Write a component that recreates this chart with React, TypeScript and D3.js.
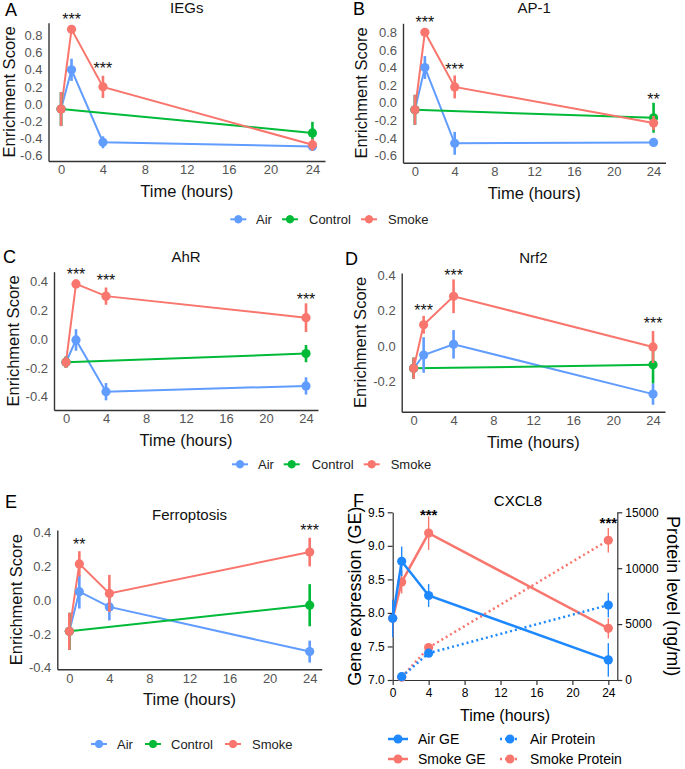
import { useEffect, useRef } from 'react';
import * as d3 from 'd3';

// ---- shared axes ----
const hours = [0, 1, 4, 24];
const controlHours = [0, 24];
const hourTicks = [0, 4, 8, 12, 16, 20, 24];

// ---- A: IEGs ----
const iegsAir = [-0.06, 0.4, -0.45, -0.5];
const iegsAirErr = [0.2, 0.13, 0.07, 0.05];
const iegsSmoke = [-0.06, 0.875, 0.2, -0.48];
const iegsSmokeErr = [0.2, 0.03, 0.13, 0.07];
const iegsControl = [-0.06, -0.34];
const iegsControlErr = [0.2, 0.13];
const iegsStars = [{ t: 1, y: 1.02, label: '***' }, { t: 4, y: 0.44, label: '***' }];

// ---- B: AP-1 ----
const ap1Air = [-0.08, 0.4, -0.46, -0.45];
const ap1AirErr = [0.17, 0.13, 0.13, 0.03];
const ap1Smoke = [-0.08, 0.8, 0.18, -0.23];
const ap1SmokeErr = [0.17, 0.03, 0.13, 0.08];
const ap1Control = [-0.08, -0.17];
const ap1ControlErr = [0.17, 0.17];
const ap1Stars = [{ t: 1, y: 0.94, label: '***' }, { t: 4, y: 0.41, label: '***' }, { t: 24, y: 0.07, label: '**' }];

// ---- C: AhR ----
const ahrAir = [-0.16, -0.005, -0.365, -0.325];
const ahrAirErr = [0.04, 0.075, 0.06, 0.06];
const ahrSmoke = [-0.16, 0.385, 0.3, 0.15];
const ahrSmokeErr = [0.04, 0.03, 0.06, 0.1];
const ahrControl = [-0.16, -0.1];
const ahrControlErr = [0.04, 0.06];
const ahrStars = [{ t: 1, y: 0.47, label: '***' }, { t: 4, y: 0.424, label: '***' }, { t: 24, y: 0.296, label: '***' }];

// ---- D: Nrf2 ----
const nrf2Air = [-0.125, -0.05, 0.01, -0.27];
const nrf2AirErr = [0.06, 0.1, 0.08, 0.06];
const nrf2Smoke = [-0.125, 0.12, 0.28, -0.005];
const nrf2SmokeErr = [0.06, 0.05, 0.095, 0.09];
const nrf2Control = [-0.125, -0.105];
const nrf2ControlErr = [0.06, 0.105];
const nrf2Stars = [{ t: 1, y: 0.213, label: '***' }, { t: 4, y: 0.413, label: '***' }, { t: 24, y: 0.141, label: '***' }];

// ---- E: Ferroptosis ----
const ferroAir = [-0.185, 0.05, -0.04, -0.305];
const ferroAirErr = [0.11, 0.1, 0.08, 0.065];
const ferroSmoke = [-0.185, 0.215, 0.04, 0.285];
const ferroSmokeErr = [0.11, 0.075, 0.11, 0.085];
const ferroControl = [-0.185, -0.03];
const ferroControlErr = [0.11, 0.125];
const ferroStars = [{ t: 1, y: 0.347, label: '**' }, { t: 24, y: 0.426, label: '***' }];

// ---- F: CXCL8 ----
const proteinHours = [1, 4, 24];
const airGE = [7.92, 8.77, 8.26, 7.3];
const airGEErr = [0.28, 0.22, 0.17, 0.25];
const smokeGE = [7.92, 8.46, 9.19, 7.77];
const smokeGEErr = [0.28, 0.17, 0.25, 0.15];
const airProtein = [300, 2400, 6700];
const airProteinErr = [100, 300, 1100];
const smokeProtein = [250, 2900, 12500];
const smokeProteinErr = [100, 300, 1100];
const geTicks = [7, 7.5, 8, 8.5, 9, 9.5];
const proteinTicks = [0, 5000, 10000, 15000];
const cxclStars = [{ t: 4, y: 9.5, label: '***' }, { t: 24, y: 9.38, label: '***' }];

const groups = ['Air', 'Control', 'Smoke'];
const colors: Record<string, string> = { Air: '#619CFF', Control: '#00BA38', Smoke: '#F8766D' };
const fAir = '#1E88FF';
const fSmoke = '#F8766D';
const FONT = '"Liberation Sans", Arial, Helvetica, sans-serif';

const panels = [
  { letter: 'A', title: 'IEGs', air: iegsAir, airErr: iegsAirErr, smoke: iegsSmoke, smokeErr: iegsSmokeErr, control: iegsControl, controlErr: iegsControlErr, stars: iegsStars,
    yTicks: [-0.6, -0.4, -0.2, 0, 0.2, 0.4, 0.6, 0.8], yDomain: [-0.67, 0.953],
    box: { left: 48.5, right: 325, top: 22.7, bottom: 161 }, letterX: 5, letterY: 16, ylabX: 9 },
  { letter: 'B', title: 'AP-1', air: ap1Air, airErr: ap1AirErr, smoke: ap1Smoke, smokeErr: ap1SmokeErr, control: ap1Control, controlErr: ap1ControlErr, stars: ap1Stars,
    yTicks: [-0.6, -0.4, -0.2, 0, 0.2, 0.4, 0.6, 0.8], yDomain: [-0.68, 0.902],
    box: { left: 403, right: 665.5, top: 23.3, bottom: 162.7 }, letterX: 353, letterY: 15, ylabX: 361 },
  { letter: 'C', title: 'AhR', air: ahrAir, airErr: ahrAirErr, smoke: ahrSmoke, smokeErr: ahrSmokeErr, control: ahrControl, controlErr: ahrControlErr, stars: ahrStars,
    yTicks: [-0.4, -0.2, 0, 0.2, 0.4], yDomain: [-0.4925, 0.47],
    box: { left: 54, right: 318, top: 271.7, bottom: 410 }, letterX: 3, letterY: 263, ylabX: 13 },
  { letter: 'D', title: 'Nrf2', air: nrf2Air, airErr: nrf2AirErr, smoke: nrf2Smoke, smokeErr: nrf2SmokeErr, control: nrf2Control, controlErr: nrf2ControlErr, stars: nrf2Stars,
    yTicks: [-0.2, 0, 0.2, 0.4], yDomain: [-0.369, 0.411],
    box: { left: 401.7, right: 665, top: 273, bottom: 411.7 }, letterX: 345, letterY: 265, ylabX: 360 },
  { letter: 'E', title: 'Ferroptosis', air: ferroAir, airErr: ferroAirErr, smoke: ferroSmoke, smokeErr: ferroSmokeErr, control: ferroControl, controlErr: ferroControlErr, stars: ferroStars,
    yTicks: [-0.4, -0.2, 0, 0.2, 0.4], yDomain: [-0.41, 0.416],
    box: { left: 57.3, right: 321.7, top: 530, bottom: 669.3 }, letterX: 5, letterY: 508, ylabX: 15.5 },
];

const legendRows = [
  { y: 219.3, marks: [238.3, 290, 369], texts: [256, 309, 388] },
  { y: 464.3, marks: [240, 291.7, 371.7], texts: [258, 311.7, 390.7] },
  { y: 744, marks: [99, 153, 233], texts: [117, 171, 252] },
];

type Sel = d3.Selection<SVGSVGElement, unknown, null, undefined>;

function drawEnrichment(svg: Sel, p: typeof panels[number]) {
  const x = d3.scaleLinear().domain([-1.2, 25.2]).range([p.box.left, p.box.right]);
  const y = d3.scaleLinear().domain(p.yDomain).range([p.box.bottom, p.box.top]);
  const g = svg.append('g').style('font-family', FONT);

  const yAxis = g.append('g').attr('transform', `translate(${p.box.left},0)`)
    .call(d3.axisLeft(y).tickValues(p.yTicks).tickSize(0).tickSizeOuter(0).tickPadding(6).tickFormat(d => (+d).toFixed(1)));
  const xAxis = g.append('g').attr('transform', `translate(0,${p.box.bottom})`)
    .call(d3.axisBottom(x).tickValues(hourTicks).tickSize(0).tickSizeOuter(0).tickPadding(4));
  [yAxis, xAxis].forEach(a => {
    a.select('.domain').attr('stroke', '#333').attr('stroke-width', 1.4);
    a.selectAll('text').attr('font-size', 13).attr('fill', '#555').attr('font-family', FONT);
  });

  const series = [
    { name: 'Air', t: hours, v: p.air, e: p.airErr },
    { name: 'Control', t: controlHours, v: p.control, e: p.controlErr },
    { name: 'Smoke', t: hours, v: p.smoke, e: p.smokeErr },
  ];
  const line = d3.line<number[]>().x(d => x(d[0])).y(d => y(d[1]));
  series.forEach(s => {
    g.append('path').datum(s.t.map((t, i) => [t, s.v[i]]))
      .attr('d', line).attr('fill', 'none').attr('stroke', colors[s.name]).attr('stroke-width', 2);
  });
  series.forEach(s => {
    const pts = s.t.map((t, i) => ({ t, v: s.v[i], e: s.e[i] }));
    g.selectAll(null).data(pts).enter().append('line')
      .attr('x1', d => x(d.t)).attr('x2', d => x(d.t))
      .attr('y1', d => y(d.v - d.e)).attr('y2', d => y(d.v + d.e))
      .attr('stroke', colors[s.name]).attr('stroke-width', 2.6);
    g.selectAll(null).data(pts).enter().append('circle')
      .attr('cx', d => x(d.t)).attr('cy', d => y(d.v)).attr('r', 4.6)
      .attr('fill', colors[s.name]);
  });

  g.selectAll(null).data(p.stars).enter().append('text')
    .attr('x', d => x(d.t)).attr('y', d => y(d.y) + 8)
    .attr('text-anchor', 'middle').attr('font-size', 16).attr('fill', '#111')
    .text(d => d.label);

  const cx = (p.box.left + p.box.right) / 2;
  const cy = (p.box.top + p.box.bottom) / 2;
  g.append('text').attr('x', cx).attr('y', p.box.top - 10).attr('text-anchor', 'middle')
    .attr('font-size', 15).attr('fill', '#111').text(p.title);
  g.append('text').attr('x', p.letterX).attr('y', p.letterY).attr('font-size', 18).attr('fill', '#000').text(p.letter);
  g.append('text').attr('transform', `translate(${p.ylabX},${cy}) rotate(-90)`)
    .attr('text-anchor', 'middle').attr('dominant-baseline', 'central')
    .attr('font-size', 16.5).attr('fill', '#111').text('Enrichment Score');
  g.append('text').attr('x', cx).attr('y', p.box.bottom + 30).attr('text-anchor', 'middle')
    .attr('dominant-baseline', 'central').attr('font-size', 16.5).attr('fill', '#111').text('Time (hours)');
}

function drawLegends(svg: Sel) {
  const g = svg.append('g').style('font-family', FONT);
  legendRows.forEach(row => {
    groups.forEach((name, i) => {
      const mx = row.marks[i];
      g.append('line').attr('x1', mx - 8).attr('x2', mx + 8).attr('y1', row.y).attr('y2', row.y)
        .attr('stroke', colors[name]).attr('stroke-width', 2);
      g.append('line').attr('x1', mx).attr('x2', mx).attr('y1', row.y - 4).attr('y2', row.y + 4)
        .attr('stroke', colors[name]).attr('stroke-width', 2);
      g.append('circle').attr('cx', mx).attr('cy', row.y).attr('r', 4).attr('fill', colors[name]);
      g.append('text').attr('x', row.texts[i]).attr('y', row.y).attr('dominant-baseline', 'central')
        .attr('font-size', 13).attr('fill', '#222').text(name);
    });
  });
}

function drawCxcl8(svg: Sel) {
  const box = { left: 392.7, right: 617.3, top: 512.3, bottom: 680 };
  const x = d3.scaleLinear().domain([0, 25]).range([box.left, box.right]);
  const yGE = d3.scaleLinear().domain([7, 9.5]).range([box.bottom, box.top]);
  const yP = d3.scaleLinear().domain([0, 15000]).range([box.bottom, box.top]);
  const g = svg.append('g').style('font-family', FONT);

  const axes = [
    g.append('g').attr('transform', `translate(${box.left},0)`)
      .call(d3.axisLeft(yGE).tickValues(geTicks).tickSize(5).tickSizeOuter(0).tickPadding(3).tickFormat(d => (+d).toFixed(1))),
    g.append('g').attr('transform', `translate(${box.right},0)`)
      .call(d3.axisRight(yP).tickValues(proteinTicks).tickSize(5).tickSizeOuter(0).tickPadding(3).tickFormat(d => String(d))),
    g.append('g').attr('transform', `translate(0,${box.bottom})`)
      .call(d3.axisBottom(x).tickValues(hourTicks).tickSize(5).tickSizeOuter(0).tickPadding(3)),
  ];
  axes.forEach(a => {
    a.selectAll('.domain, .tick line').attr('stroke', '#333').attr('stroke-width', 1.2);
    a.selectAll('text').attr('font-size', 12).attr('fill', '#000').attr('font-family', FONT);
  });

  const line = d3.line<number[]>().x(d => x(d[0]));
  const geSeries = [
    { t: hours, v: smokeGE, e: smokeGEErr, c: fSmoke, yS: yGE, dash: null },
    { t: hours, v: airGE, e: airGEErr, c: fAir, yS: yGE, dash: null },
    { t: proteinHours, v: smokeProtein, e: smokeProteinErr, c: fSmoke, yS: yP, dash: '2,3' },
    { t: proteinHours, v: airProtein, e: airProteinErr, c: fAir, yS: yP, dash: '2,3' },
  ];
  geSeries.forEach(s => {
    const pts = s.t.map((t, i) => ({ t, v: s.v[i], e: s.e[i] }));
    g.append('path').datum(pts.map(d => [d.t, d.v]))
      .attr('d', line.y(d => s.yS(d[1]))).attr('fill', 'none').attr('stroke', s.c)
      .attr('stroke-width', 2.5).attr('stroke-dasharray', s.dash);
    g.selectAll(null).data(pts).enter().append('line')
      .attr('x1', d => x(d.t)).attr('x2', d => x(d.t))
      .attr('y1', d => s.yS(d.v - d.e)).attr('y2', d => s.yS(d.v + d.e))
      .attr('stroke', s.c).attr('stroke-width', 1.4);
    g.selectAll(null).data(pts).enter().append('circle')
      .attr('cx', d => x(d.t)).attr('cy', d => s.yS(d.v)).attr('r', 4.6).attr('fill', s.c);
  });

  g.selectAll(null).data(cxclStars).enter().append('text')
    .attr('x', d => x(d.t)).attr('y', d => yGE(d.y) + 8).attr('text-anchor', 'middle')
    .attr('font-size', 15).attr('font-weight', 'bold').attr('fill', '#000').text(d => d.label);

  g.append('text').attr('x', 518).attr('y', 506).attr('text-anchor', 'middle')
    .attr('font-size', 15).attr('fill', '#000').text('CXCL8');
  g.append('text').attr('x', 353).attr('y', 507).attr('font-size', 18).attr('fill', '#000').text('F');
  g.append('text').attr('transform', `translate(355,${(box.top + box.bottom) / 2}) rotate(-90)`)
    .attr('text-anchor', 'middle').attr('dominant-baseline', 'central')
    .attr('font-size', 18).attr('fill', '#000').text('Gene expression (GE)');
  g.append('text').attr('transform', `translate(673,${(box.top + box.bottom) / 2}) rotate(90)`)
    .attr('text-anchor', 'middle').attr('dominant-baseline', 'central')
    .attr('font-size', 18).attr('fill', '#000').text('Protein level (ng/ml)');
  g.append('text').attr('x', 505).attr('y', 715).attr('text-anchor', 'middle')
    .attr('dominant-baseline', 'central').attr('font-size', 16).attr('fill', '#000').text('Time (hours)');

  const legend = [
    { label: 'Air GE', c: fAir, dash: null, x: 398, y: 739 },
    { label: 'Air Protein', c: fAir, dash: '2,3', x: 510, y: 739 },
    { label: 'Smoke GE', c: fSmoke, dash: null, x: 398, y: 759 },
    { label: 'Smoke Protein', c: fSmoke, dash: '2,3', x: 510, y: 759 },
  ];
  legend.forEach(l => {
    g.append('line').attr('x1', l.x - 10).attr('x2', l.x + 10).attr('y1', l.y).attr('y2', l.y)
      .attr('stroke', l.c).attr('stroke-width', 2.5).attr('stroke-dasharray', l.dash);
    g.append('circle').attr('cx', l.x).attr('cy', l.y).attr('r', 4.5).attr('fill', l.c);
    g.append('text').attr('x', l.x + 20).attr('y', l.y).attr('dominant-baseline', 'central')
      .attr('font-size', 14).attr('fill', '#000').text(l.label);
  });
}

export default function App() {
  const svgRef = useRef<SVGSVGElement>(null);

  useEffect(() => {
    const svg = d3.select(svgRef.current as SVGSVGElement);
    svg.selectAll('*').remove();
    panels.forEach(p => drawEnrichment(svg, p));
    drawLegends(svg);
    drawCxcl8(svg);
  }, []);

  return (
    <svg ref={svgRef} width={685} height={769}
      style={{ position: 'absolute', left: 0, top: 0, background: '#fff' }} />
  );
}
